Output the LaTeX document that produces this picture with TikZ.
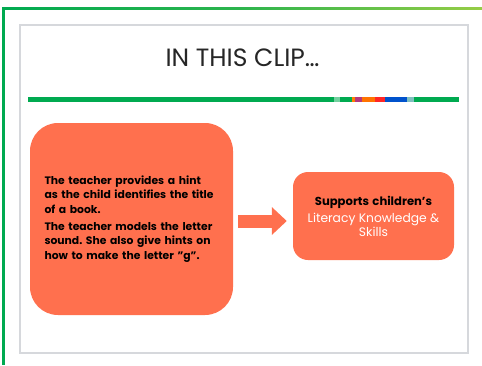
\documentclass[tikz,border=0pt]{standalone}
\usepackage{fontspec}
\setmainfont{Poppins}
\usetikzlibrary{arrows.meta}
\definecolor{clipgreen}{RGB}{0,170,80}
\definecolor{cliplime}{RGB}{150,205,70}
\definecolor{coral}{RGB}{255,112,78}
\definecolor{framegray}{RGB}{214,216,220}
\frenchspacing
\begin{document}
\begin{tikzpicture}%
	[x=1pt,
	y=-1pt,
	frame/.style={draw=framegray, line width=1.2pt},
	bar/.style={fill=clipgreen},
	box/.style={fill=coral, inner sep=0pt},
	hintbox/.style={box, rounded corners=28pt, minimum width=203pt, minimum height=192pt,
		text width=174pt, align=left, font=\bfseries\fontsize{10.8}{14.3}\selectfont},
	skillbox/.style={box, rounded corners=15pt, minimum width=161pt, minimum height=88pt,
		text width=155pt, align=center},
	blockarrow/.style={draw=coral, line width=13pt, -{Triangle[length=15pt,width=27pt]}}]
	%
	%% Canvas
	%%
	\useasboundingbox (0,0) rectangle (482,365);
	\fill[white] (0,0) rectangle (482,365);
	%%
	%% Green page border
	%%
	\fill[clipgreen] (2,8) rectangle (4.5,365);
	\shade[left color=clipgreen, right color=cliplime, middle color=clipgreen!70!cliplime] (2,7) rectangle (482,9.5);
	%%
	%% Slide frame
	%%
	\draw[frame] (20,25) rectangle (468,353);
	%%
	%% Title and rule
	%%
	\node[font=\fontsize{25}{30}\selectfont, text=black!85] (title) at (242.5,58) {IN THIS CLIP…};
	\fill[bar] (28,97) rectangle (459,101.5);
	\fill[clipgreen!55] (334,97) rectangle (340,101.5);
	\fill[orange] (352,97) rectangle (355,101.5);
	\fill[magenta!70!black] (355,97) rectangle (362,101.5);
	\fill[orange!90!red] (362,97) rectangle (375,101.5);
	\fill[red!85!white] (375,97) rectangle (385,101.5);
	\fill[blue!60!cyan!80!black] (385,97) rectangle (407,101.5);
	\fill[teal!50] (407,97) rectangle (414,101.5);
	%%
	%% Boxes
	%%
	\node[hintbox] (hint) at (131.5,219) {The teacher provides a hint\\ as the child identifies the title\\ of a book.\\[3pt]
		The teacher models the letter\\ sound. She also give hints on\\ how to make the letter "g".};
	\node[skillbox] (skills) at (373.5,216) {{\bfseries\fontsize{11.6}{18}\selectfont Supports children's}\\[2.5pt]
		{\color{white}\fontsize{12.3}{15}\selectfont Literacy Knowledge \&\\ Skills}};
	%%
	%% Arrow
	%%
	\draw[blockarrow] ([shift={(5,2)}]hint.east) -- ([shift={(-6,5)}]skills.west);
	%%
\end{tikzpicture}
\end{document}
